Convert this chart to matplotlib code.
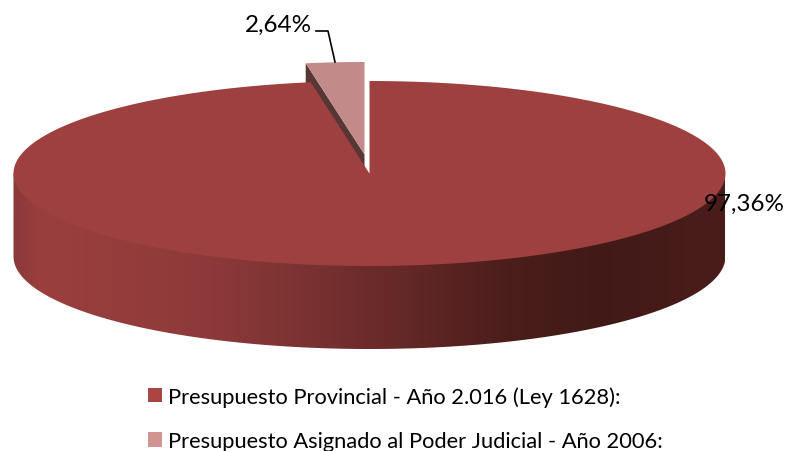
import numpy as np
import matplotlib
matplotlib.use("Agg")
import matplotlib.pyplot as plt
from matplotlib.colors import LinearSegmentedColormap
from matplotlib.patches import Patch, Polygon

labels = ["Presupuesto Provincial - Año 2.016 (Ley 1628):",
          "Presupuesto Asignado al Poder Judicial - Año 2006:"]
values = [97.36, 2.64]
value_labels = ["97,36%", "2,64%"]

# pie geometry in pixels
cx, cy = 369.5, 174.5
rx, ry = 356, 92.5
depth = 83
off_x, off_y = -5, -19

# colours
main_col = "#9E4040"
small_col = "#C28A88"
small_side = "#583636"
stops = [(13, "#8B3939"), (40, "#9A3F3E"), (200, "#8F3A3A"), (300, "#7C3232"),
         (400, "#652928"), (500, "#4C1E1C"), (600, "#411A17"), (725, "#4A1D1B")]

plt.rcParams["font.family"] = ["Lato", "DejaVu Sans"]

fig = plt.figure(figsize=(7.86, 4.52), dpi=100)
ax = fig.add_axes([0, 0, 1, 1])
ax.set_xlim(0, 786)
ax.set_ylim(452, 0)
ax.axis("off")


# angle measured clockwise from straight up
def pt(a, dx=0, dy=0):
    return cx + dx + rx * np.sin(a), cy + dy - ry * np.cos(a)


small_angle = 2 * np.pi * values[1] / sum(values)

# side of the cylinder, gradient clipped to the front half
a = np.linspace(np.pi / 2, 3 * np.pi / 2, 200)
xs, ys = pt(a, dy=depth)
side = Polygon(np.column_stack([np.r_[xs, cx - rx, cx + rx], np.r_[ys, cy, cy]]),
               closed=True, fc="none", ec="none")
ax.add_patch(side)
x0, x1 = stops[0][0], stops[-1][0]
cmap = LinearSegmentedColormap.from_list(
    "side", [((s[0] - x0) / (x1 - x0), s[1]) for s in stops])
img = ax.imshow(np.linspace(0, 1, 512)[None, :], cmap=cmap, aspect="auto",
                extent=[x0, x1, cy + ry + depth + 2, cy - 2], zorder=1)
img.set_clip_path(side)
ax.set_xlim(0, 786)
ax.set_ylim(452, 0)

# small slice: side face, top face, pulled out of the pie
lx, ly = pt(-small_angle, off_x, off_y)
ax_x, ax_y = cx + off_x, cy + off_y
ax.add_patch(Polygon([(lx, ly), (ax_x, ax_y), (ax_x, ax_y + depth), (lx, ly + depth)],
                     fc=small_side, ec="none", zorder=2))
a = np.linspace(-small_angle, 0, 30)
xs, ys = pt(a, off_x, off_y)
ax.add_patch(Polygon(np.column_stack([np.r_[xs, ax_x], np.r_[ys, ax_y]]),
                     fc=small_col, ec="none", zorder=3))

# main slice top
a = np.linspace(0, 2 * np.pi - small_angle, 400)
xs, ys = pt(a)
ax.add_patch(Polygon(np.column_stack([np.r_[xs, cx], np.r_[ys, cy]]),
                     fc=main_col, ec="none", zorder=4))

# labels
ax.text(744, 204, value_labels[0], ha="center", va="center", fontsize=17.5,
        color="black", zorder=6)
ax.text(278.5, 25, value_labels[1], ha="center", va="center", fontsize=17.5,
        color="black", zorder=6)
ax.plot([316, 328, 335], [32, 32, 63], color="black", lw=1.2, zorder=6)

# legend
handles = [Patch(fc="#A84644", ec="none"), Patch(fc="#D29391", ec="none")]
ax.legend(handles, labels, loc="upper left", bbox_to_anchor=(148, 387),
          bbox_transform=ax.transData, frameon=False, fontsize=15.75,
          handlelength=0.64, handleheight=0.64, handletextpad=0.27,
          labelspacing=1.12, borderpad=0, borderaxespad=0)

fig.savefig("out.png", dpi=100)
